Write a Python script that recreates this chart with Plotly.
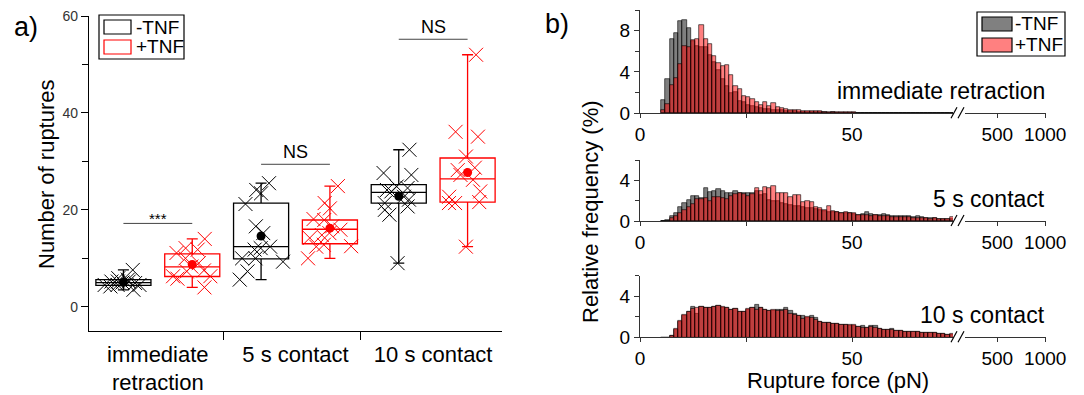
import plotly.graph_objects as go
import numpy as np

W, H = 1084, 395
def px(x): return x / W
def py(y): return 1 - y / H

FONT = "Liberation Sans, Arial, sans-serif"

# ---------------- panel a data ----------------
categories = ["immediate<br>retraction", "5 s contact", "10 s contact"]
groups = ["-TNF", "+TNF"]
neg_points = [
    [3.5, 4.2, 4.5, 4.5, 4.5, 4.9, 5.0, 5.2, 5.2, 5.2, 5.6, 5.9, 7.6],
    [5.6, 7.3, 9.3, 10.0, 10.0, 11.8, 12.1, 12.4, 15.2, 16.6, 21.2, 23.4, 24.1, 25.5],
    [9.0, 19.0, 20.0, 20.7, 21.4, 22.1, 22.7, 23.8, 24.1, 24.5, 24.8, 27.2, 27.6, 32.4],
]
pos_points = [
    [4.0, 5.8, 6.3, 6.3, 7.3, 7.5, 8.3, 9.0, 10.0, 11.1, 11.8, 12.1, 14.0],
    [10.0, 12.4, 12.5, 12.8, 14.2, 14.8, 15.2, 15.9, 16.6, 17.9, 18.1, 20.3, 21.4, 24.9],
    [12.4, 21.4, 21.4, 21.6, 22.7, 23.8, 26.2, 27.2, 28.2, 28.7, 31.0, 35.1, 36.1, 52.0],
]
neg_q1 = [4.4, 9.9, 21.4]
neg_median = [5.0, 12.4, 23.6]
neg_q3 = [5.6, 21.4, 25.2]
pos_q1 = [6.25, 13.0, 21.6]
pos_median = [8.25, 16.0, 26.4]
pos_q3 = [10.9, 17.9, 30.7]
sig_labels = ["***", "NS", "NS"]
sig_y = [17.2, 29.4, 55.2]

# ---------------- panel b data (relative frequency %, 1 pN bins) ----------------
bin_left = list(range(5, 74))
hist_titles = ["immediate retraction", "5 s contact", "10 s contact"]
im_neg = [1.3, 3.3, 7.2, 7.8, 8.9, 9.0, 8.3, 7.0, 6.5, 6.4,
          6.4, 5.6, 5.0, 4.2, 3.3, 2.6, 2.0, 2.1, 1.2, 1.1,
          0.8, 0.7, 0.6, 0.5, 0.45, 0.4, 0.35, 0.35, 0.3, 0.25,
          0.2, 0.2, 0.15, 0.15, 0.12, 0.1, 0.1, 0.08, 0.1, 0.06,
          0.08, 0.05, 0.06, 0.07, 0.05, 0.05, 0.06, 0.04, 0.05, 0.04,
          0.05, 0.03, 0.04, 0.04, 0.03, 0.03, 0.04, 0.03, 0.03, 0.02,
          0.03, 0.02, 0.03, 0.02, 0.02, 0.02, 0.02, 0.02, 0.01]
im_pos = [0.3, 0.9, 2.7, 3.4, 4.8, 6.5, 6.4, 7.1, 7.2, 8.5,
          7.2, 6.7, 5.5, 4.9, 4.6, 4.7, 3.7, 2.6, 2.4, 1.7,
          1.6, 1.4, 1.1, 0.8, 1.1, 0.7, 1.0, 0.6, 0.5, 0.4,
          0.35, 0.3, 0.3, 0.25, 0.25, 0.2, 0.2, 0.2, 0.15, 0.15,
          0.1, 0.1, 0.1, 0.08, 0.08, 0.08, 0.06, 0.07, 0.05, 0.06,
          0.05, 0.04, 0.05, 0.04, 0.04, 0.03, 0.04, 0.03, 0.03, 0.03,
          0.02, 0.03, 0.02, 0.02, 0.02, 0.02, 0.02, 0.01, 0.01]
c5_neg = [0, 0.1, 0.5, 0.8, 1.4, 1.8, 2.1, 2.5, 2.5, 2.3,
          3.2, 2.9, 3.0, 3.1, 3.0, 2.8, 2.75, 3.0, 2.8, 2.75,
          2.75, 2.8, 3.0, 2.6, 2.7, 2.1, 2.0, 2.0, 1.8, 1.7,
          1.6, 1.5, 1.5, 1.4, 1.3, 1.3, 1.2, 1.1, 1.0, 0.9,
          0.9, 0.9, 0.8, 0.8, 0.75, 0.7, 0.6, 0.7, 0.9, 0.7,
          0.6, 0.6, 0.7, 0.6, 0.5, 0.45, 0.5, 0.45, 0.5, 0.4,
          0.45, 0.35, 0.3, 0.3, 0.3, 0.2, 0.2, 0.2, 0.15]
c5_pos = [0, 0, 0.25, 0.5, 0.75, 1.1, 1.4, 1.7, 2.2, 2.2,
          2.3, 2.0, 2.4, 2.35, 2.3, 2.2, 2.5, 2.7, 2.8, 2.7,
          2.5, 2.7, 3.25, 3.0, 3.3, 3.25, 3.4, 2.8, 2.8, 2.75,
          2.4, 2.6, 2.6, 1.9, 2.0, 1.9, 1.4, 1.3, 1.1, 1.5,
          1.0, 0.9, 0.8, 0.85, 0.8, 0.75, 0.55, 0.6, 0.6, 0.5,
          0.55, 0.5, 0.45, 0.5, 0.4, 0.4, 0.35, 0.4, 0.35, 0.3,
          0.3, 0.3, 0.25, 0.2, 0.25, 0.2, 0.15, 0.2, 0.4]
c10_neg = [0, 0, 0.15, 0.7, 1.5, 2.1, 2.45, 3.0, 2.3, 3.0,
           2.85, 2.85, 2.95, 3.05, 2.9, 2.9, 2.7, 2.75, 2.45, 2.5,
           2.7, 2.85, 3.2, 2.9, 2.7, 2.6, 2.6, 2.65, 2.65, 2.9,
           2.55, 2.3, 2.15, 2.15, 1.9, 2.1, 1.9, 1.5, 1.45, 1.4,
           1.35, 1.3, 1.2, 1.25, 1.15, 1.15, 1.0, 1.1, 0.95, 1.1,
           1.1, 0.8, 0.7, 0.7, 0.85, 0.65, 0.6, 0.55, 0.5, 0.5,
           0.5, 0.4, 0.45, 0.4, 0.4, 0.35, 0.35, 0.3, 0.3]
c10_pos = [0, 0, 0.15, 0.8, 1.6, 2.25, 2.5, 2.75, 2.9, 3.0,
           2.9, 2.9, 3.0, 3.05, 3.0, 2.9, 2.7, 2.8, 2.5, 2.5,
           2.75, 2.9, 2.65, 2.9, 2.65, 2.55, 2.65, 2.6, 2.6, 2.65,
           2.3, 2.2, 2.15, 1.85, 2.0, 1.9, 1.7, 1.5, 1.45, 1.45,
           1.35, 1.35, 1.2, 1.2, 1.2, 1.2, 1.0, 0.95, 0.95, 1.0,
           0.9, 0.8, 0.7, 0.7, 0.75, 0.65, 0.6, 0.55, 0.55, 0.5,
           0.5, 0.4, 0.45, 0.4, 0.4, 0.35, 0.35, 0.3, 0.35]
hist_neg = [im_neg, c5_neg, c10_neg]
hist_pos = [im_pos, c5_pos, c10_pos]

# ---------------- styles ----------------
RED = "#ff0000"
GRAY_FILL = "rgba(0,0,0,0.5)"
RED_FILL = "rgba(255,0,0,0.5)"

fig = go.Figure()

pos_neg = [2 * i + 1 for i in range(len(categories))]
pos_pos = [2 * i + 2 for i in range(len(categories))]

for positions, pts, q1, med, q3, col in [
    (pos_neg, neg_points, neg_q1, neg_median, neg_q3, "black"),
    (pos_pos, pos_points, pos_q1, pos_median, pos_q3, RED),
]:
    fig.add_trace(go.Box(
        x=positions, y=pts, q1=q1, median=med, q3=q3,
        lowerfence=[min(p) for p in pts], upperfence=[max(p) for p in pts],
        boxpoints="all", jitter=0.9, pointpos=0, width=0.8, whiskerwidth=0.2,
        line=dict(color=col, width=1.3), fillcolor="rgba(0,0,0,0)",
        marker=dict(symbol="x-thin", size=14, color=col, line=dict(color=col, width=1)),
        showlegend=False, hoverinfo="skip", xaxis="x", yaxis="y"))
    fig.add_trace(go.Scatter(
        x=positions, y=[float(np.mean(p)) for p in pts], mode="markers",
        marker=dict(size=9, color=col), showlegend=False, xaxis="x", yaxis="y"))

# histogram rows: (y of baseline px, y of top px, range max)
rows = [(113.3, 10.0, 10), (221.0, 160.0, 6), (337.3, 275.7, 6)]
centers = [b + 0.5 for b in bin_left]
layout_axes = {}
shapes = []
annotations = []
TICKF = dict(size=19, color="black")
for r, (yb, yt, ymax) in enumerate(rows):
    ya = r + 2
    xm = 2 * r + 2
    xb = 2 * r + 3
    fig.add_trace(go.Bar(x=centers, y=hist_neg[r], width=1, marker=dict(color=GRAY_FILL, line=dict(color="black", width=0.6)),
                         showlegend=False, xaxis=f"x{xm}", yaxis=f"y{ya}"))
    fig.add_trace(go.Bar(x=centers, y=hist_pos[r], width=1, marker=dict(color=RED_FILL, line=dict(color="black", width=0.6)),
                         showlegend=False, xaxis=f"x{xm}", yaxis=f"y{ya}"))
    # invisible anchor so the broken-axis segment is drawn
    fig.add_trace(go.Scatter(x=[1000], y=[0], mode="markers", marker=dict(opacity=0), hoverinfo="skip",
                             showlegend=False, xaxis=f"x{xb}", yaxis=f"y{ya}"))
    layout_axes[f"yaxis{ya}"] = dict(
        domain=[py(yb), py(yt)], range=[0, ymax], anchor=f"x{xm}", tick0=0, dtick=4,
        ticks="outside", ticklen=5, tickwidth=1.2, tickcolor="#333",
        minor=dict(dtick=2, tick0=0, ticks="outside", ticklen=4, tickcolor="#333", tickwidth=1.2),
        showline=True, linecolor="#333", linewidth=1.3, showgrid=False, zeroline=False,
        automargin=False, tickfont=TICKF)
    layout_axes[f"xaxis{xm}"] = dict(
        domain=[px(640), px(953)], range=[0, 73.8], anchor=f"y{ya}", tick0=0, dtick=50,
        ticks="outside", ticklen=4, tickwidth=1.2, tickcolor="#333",
        minor=dict(dtick=25, tick0=0, ticks="outside", ticklen=4, tickcolor="#333", tickwidth=1.2),
        showline=True, linecolor="#333", linewidth=1.3, showgrid=False, zeroline=False,
        automargin=False, tickfont=TICKF)
    layout_axes[f"xaxis{xb}"] = dict(
        domain=[px(965), px(1046)], range=[163, 1008], anchor=f"y{ya}",
        tickmode="array", tickvals=[500, 1000], ticktext=["500", "1000"],
        ticks="outside", ticklen=4, tickwidth=1.2, tickcolor="#333",
        showline=True, linecolor="#333", linewidth=1.3, showgrid=False, zeroline=False,
        automargin=False, tickfont=TICKF)
    for x0 in (951, 958):
        shapes.append(dict(type="line", xref="paper", yref="paper",
                           x0=px(x0), y0=py(yb + 5), x1=px(x0 + 6), y1=py(yb - 6),
                           line=dict(color="black", width=1.2)))
    annotations.append(dict(text=hist_titles[r], x=px(1047), y=py(yb - 22), xref="paper", yref="paper",
                            xanchor="right", yanchor="middle", showarrow=False,
                            font=dict(size=23, color="black")))

# significance bars
for i, lab in enumerate(sig_labels):
    shapes.append(dict(type="line", xref="x", yref="y", x0=pos_neg[i], x1=pos_pos[i],
                       y0=sig_y[i], y1=sig_y[i], line=dict(color="#444", width=1)))
    annotations.append(dict(text=lab, x=(pos_neg[i] + pos_pos[i]) / 2, y=sig_y[i], xref="x", yref="y",
                            xanchor="center", yanchor="bottom", showarrow=False,
                            yshift=-6 if lab == "***" else 0,
                            font=dict(size=15 if lab == "***" else 18, color="black")))

# manual legends
def legend_box(x0, y0, x1, y1, items):
    shapes.append(dict(type="rect", xref="paper", yref="paper", x0=px(x0), y0=py(y1), x1=px(x1), y1=py(y0),
                       line=dict(color="black", width=1.2), fillcolor="white", layer="above"))
    for (rx0, ry0, rx1, ry1, lc, fc, txt, tx, ty) in items:
        shapes.append(dict(type="rect", xref="paper", yref="paper", x0=px(rx0), y0=py(ry1), x1=px(rx1), y1=py(ry0),
                           line=dict(color=lc, width=1.2), fillcolor=fc, layer="above"))
        annotations.append(dict(text=txt, x=px(tx), y=py(ty), xref="paper", yref="paper",
                                xanchor="left", yanchor="middle", showarrow=False,
                                font=dict(size=19, color="black")))

legend_box(99, 15, 184, 59, [
    (104, 20, 131, 34, "black", "rgba(0,0,0,0)", groups[0], 134, 27),
    (104, 40, 131, 54, RED, "rgba(0,0,0,0)", groups[1], 134, 47),
])
legend_box(977, 12, 1065, 56, [
    (982, 17, 1012, 31, "black", "rgb(128,128,128)", groups[0], 1013, 24),
    (982, 38, 1012, 52, "black", "rgb(255,128,128)", groups[1], 1013, 45),
])

C = dict(xref="paper", yref="paper", showarrow=False, xanchor="center", yanchor="middle")
annotations += [
    dict(text="a)", x=px(26), y=py(27), font=dict(size=27), **C),
    dict(text="b)", x=px(557), y=py(24), font=dict(size=27), **C),
    dict(text="Number of ruptures", x=px(46), y=py(174), textangle=-90, font=dict(size=22), **C),
    dict(text="Relative frequency (%)", x=px(590), y=py(212), textangle=-90, font=dict(size=22), **C),
    dict(text="Rupture force (pN)", x=px(838), y=py(380), font=dict(size=22), **C),
]

fig.update_layout(
    template="none",
    width=W, height=H, margin=dict(l=0, r=0, t=0, b=0, pad=0, autoexpand=False),
    paper_bgcolor="white", plot_bgcolor="rgba(0,0,0,0)",
    font=dict(family=FONT, color="black"),
    barmode="overlay", bargap=0, showlegend=False,
    xaxis=dict(domain=[px(89), px(502)], range=[0.5, 6.5], anchor="y",
               tickmode="array", tickvals=[p + 0.5 for p in pos_neg], ticktext=categories,
               ticks="", ticklabelstandoff=3,
               minor=dict(tickmode="array", tickvals=[p + 1.45 for p in pos_neg[:-1]], ticks="outside",
                          ticklen=8, tickwidth=1.3, tickcolor="black", showgrid=False),
               showline=True, linecolor="black", linewidth=1.3, showgrid=False, zeroline=False,
               automargin=False, tickfont=dict(size=22, color="black")),
    yaxis=dict(domain=[py(331), py(16)], range=[-5, 60], anchor="x", tick0=0, dtick=20,
               ticks="outside", ticklen=7, tickwidth=1.2, tickcolor="black",
               minor=dict(dtick=10, tick0=0, ticks="outside", ticklen=6, tickwidth=1.2, tickcolor="black"),
               showline=True, linecolor="black", linewidth=1.3, showgrid=False, zeroline=False,
               automargin=False, tickfont=dict(size=14, color="#333")),
    shapes=shapes, annotations=annotations,
    **layout_axes,
)

fig.write_html("out.html", config={"displayModeBar": False},
               post_script="document.body.style.margin='0';document.body.style.padding='0';")
